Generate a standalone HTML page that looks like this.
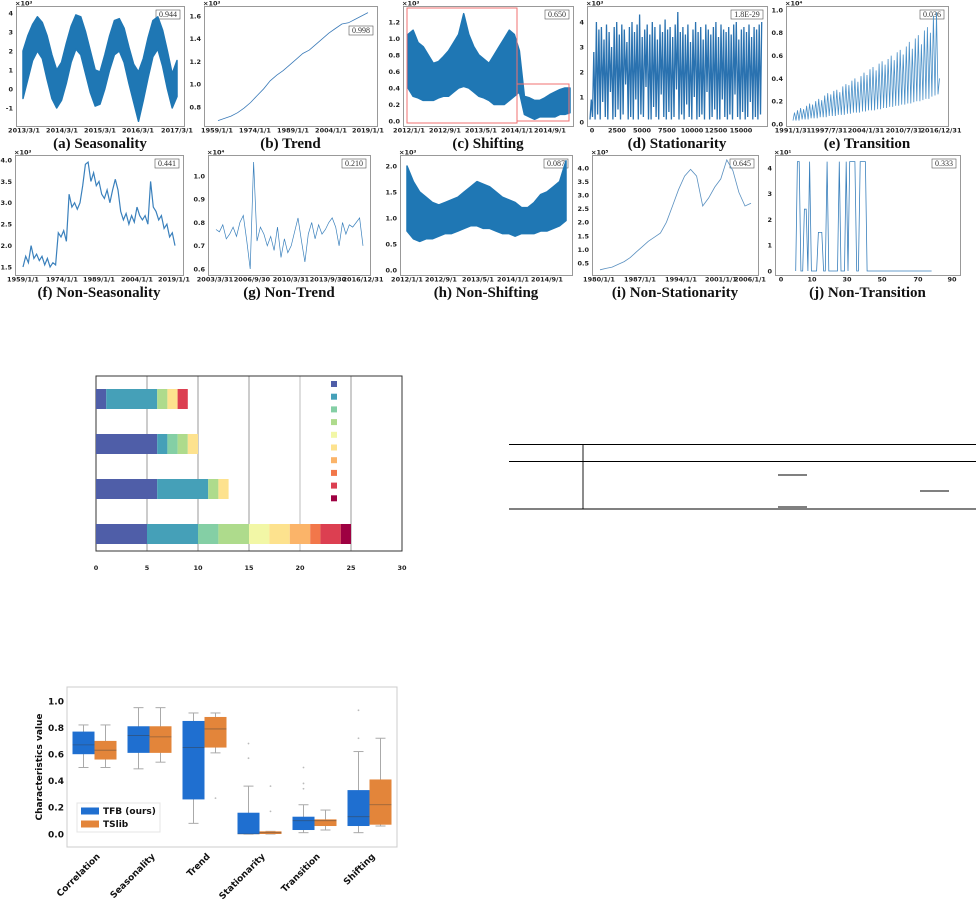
<!DOCTYPE html>
<html><head><meta charset="utf-8">
<style>
html,body{margin:0;padding:0;background:#fff;}
svg{display:block;}
.tk{font-family:"DejaVu Sans","Liberation Sans",sans-serif;font-weight:bold;font-size:6.5px;fill:#222;}
.cap{font-family:"Liberation Serif",serif;font-weight:bold;font-size:15px;fill:#111;}
.sc{font-family:"Liberation Serif",serif;font-size:8px;fill:#333;}
.bt{font-family:"DejaVu Sans","Liberation Sans",sans-serif;font-weight:bold;font-size:9px;fill:#111;}
</style></head>
<body>
<svg id="fig" width="976" height="900" viewBox="0 0 976 900" xmlns="http://www.w3.org/2000/svg">
  <g stroke="#000" stroke-width="0.9">
    <line x1="509" y1="444.5" x2="976" y2="444.5"/>
    <line x1="509" y1="461.5" x2="976" y2="461.5"/>
    <line x1="509" y1="509" x2="976" y2="509"/>
    <line x1="583" y1="444" x2="583" y2="509"/>
    <line x1="778" y1="475" x2="807" y2="475"/>
    <line x1="778" y1="507" x2="807" y2="507"/>
    <line x1="920" y1="491" x2="949" y2="491"/>
  </g>
</svg>
<script>
// ---------- data ----------
const seasonUpper=[2.0,2.8,3.4,3.8,3.5,2.8,1.8,1.0,1.4,2.4,3.3,3.9,3.8,3.0,2.0,1.0,0.9,1.8,2.8,3.6,3.7,3.2,2.2,1.3,0.9,1.6,2.7,3.6,3.8,3.1,2.0,0.8,1.5];
const seasonLower=[-0.5,0.5,1.5,2.0,1.6,0.5,-0.5,-1.0,-0.6,0.3,1.4,2.1,1.8,0.8,-0.2,-0.9,-0.8,0.0,1.0,1.8,2.0,1.4,0.3,-0.7,-1.7,-0.6,0.6,1.7,2.1,1.2,0.0,-1.0,-0.4];
const trendVals=[0.68,0.70,0.72,0.75,0.79,0.84,0.90,0.96,1.03,1.08,1.12,1.17,1.22,1.27,1.30,1.35,1.40,1.45,1.49,1.53,1.54,1.57,1.60,1.63];
const shiftUpper=[1.05,1.1,0.95,0.9,0.8,0.7,0.72,0.78,0.85,0.95,1.05,1.3,1.05,0.9,0.8,0.75,0.7,0.8,0.9,1.0,1.1,1.05,0.85,0.3,0.28,0.25,0.25,0.28,0.32,0.35,0.38,0.4,0.4];
const shiftLower=[0.4,0.3,0.28,0.25,0.25,0.25,0.28,0.3,0.3,0.35,0.4,0.42,0.4,0.35,0.3,0.28,0.25,0.2,0.2,0.2,0.25,0.3,0.35,0.08,0.05,0.02,0.05,0.05,0.05,0.05,0.08,0.08,0.1];
const statPeaks=[0.9,2.8,4.0,3.7,3.8,3.3,3.9,3.6,3.0,3.8,4.0,3.5,3.9,3.7,3.2,3.8,4.0,3.6,3.9,4.3,3.4,3.7,3.9,3.5,4.0,3.8,3.3,3.9,3.6,4.1,3.7,3.8,3.4,3.9,4.4,3.6,3.8,3.5,3.9,3.2,3.7,4.0,3.6,3.8,3.3,3.9,3.7,3.5,3.8,4.0,3.4,3.9,3.7,3.6,3.8,3.5,3.9,4.0,3.3,3.7,3.8,3.6,3.9,3.4,3.8,3.7,3.9,4.0];
const statLows=[0.1,0.2,0.1,0.3,0.1,0.8,0.2,0.1,1.2,0.1,0.2,0.5,0.1,0.3,1.5,0.1,0.2,0.1,0.9,0.1,0.3,0.2,1.4,0.1,0.1,0.6,0.2,0.1,1.1,0.2,0.1,0.4,0.1,0.2,1.3,0.1,0.3,0.1,0.7,0.2,0.1,1.0,0.1,0.2,0.3,0.1,1.2,0.1,0.2,0.5,0.1,0.1,0.9,0.2,0.1,0.3,0.1,1.1,0.2,0.1,0.4,0.1,0.2,0.8,0.1,0.2,0.1,0.3];
const transPeaks=[0.10,0.12,0.14,0.13,0.16,0.18,0.17,0.20,0.22,0.21,0.25,0.27,0.26,0.29,0.30,0.28,0.33,0.35,0.34,0.38,0.40,0.37,0.42,0.45,0.43,0.48,0.50,0.47,0.53,0.55,0.52,0.57,0.60,0.56,0.63,0.65,0.61,0.68,0.72,0.66,0.75,0.78,0.70,0.82,0.85,0.80,0.95,0.98,0.40];
const transLows=[0.03,0.03,0.03,0.04,0.04,0.04,0.05,0.05,0.05,0.06,0.06,0.06,0.07,0.07,0.07,0.08,0.08,0.08,0.09,0.09,0.10,0.10,0.10,0.11,0.11,0.12,0.12,0.12,0.13,0.13,0.14,0.14,0.15,0.15,0.16,0.16,0.17,0.17,0.18,0.18,0.19,0.20,0.20,0.21,0.22,0.22,0.24,0.25,0.26];
const nonSeasonVals=[1.5,1.75,1.6,2.0,1.7,1.8,1.65,1.75,1.55,1.7,1.5,1.6,1.55,2.3,2.2,2.35,2.1,3.2,2.9,3.0,2.85,3.0,3.4,3.9,3.95,3.5,3.7,3.4,3.5,3.2,3.1,3.3,3.0,3.3,3.55,3.3,2.8,2.6,2.75,2.5,2.7,2.55,2.9,2.7,2.6,2.7,2.5,3.5,2.9,2.8,2.6,2.7,2.4,2.5,2.2,2.3,2.0];
const nonTrendVals=[0.77,0.76,0.79,0.73,0.75,0.78,0.74,0.80,0.83,0.72,0.60,1.06,0.72,0.78,0.75,0.70,0.74,0.68,0.78,0.65,0.73,0.67,0.70,0.76,0.82,0.72,0.63,0.75,0.80,0.73,0.79,0.75,0.77,0.80,0.82,0.78,0.70,0.80,0.75,0.79,0.78,0.80,0.82,0.70];
const nonShiftUpper=[2.0,1.7,1.5,1.4,1.3,1.25,1.3,1.35,1.4,1.5,1.6,1.7,1.65,1.6,1.5,1.4,1.35,1.3,1.2,1.2,1.3,1.45,1.5,1.6,1.7,2.1];
const nonShiftLower=[0.75,0.6,0.55,0.6,0.6,0.65,0.7,0.7,0.75,0.8,0.85,0.85,0.8,0.8,0.75,0.7,0.7,0.65,0.7,0.7,0.7,0.75,0.75,0.8,0.85,0.95];
const nonStatVals=[0.25,0.3,0.35,0.45,0.55,0.7,0.9,1.1,1.3,1.45,1.6,2.0,2.6,3.2,3.7,3.95,3.7,2.6,2.9,3.3,3.6,4.3,3.9,3.1,2.6,2.7];
const nonTransVals=[0,4.25,4.25,0,0,2.4,2.4,0,4.25,0,0,0,0,1.5,1.5,1.5,0,0,4.25,0,0,0,0,0,0,4.25,0,0,0,4.25,0,4.25,4.25,4.25,4.25,0,0,4.25,4.25,4.25,4.25,0,0,0,0,0,0,0,0,0,0,0,0,0,0,0,0,0,0,0,0,0,0,0,0,0,0,0,0,0,0,0,0,0,0,0,0,0,0];
const scores=['0.944','0.998','0.650','1.8E-29','0.036','0.441','0.210','0.087','0.645','0.333'];
const captions=['(a) Seasonality','(b) Trend','(c) Shifting','(d) Stationarity','(e) Transition','(f) Non-Seasonality','(g) Non-Trend','(h) Non-Shifting','(i) Non-Stationarity','(j) Non-Transition'];

// stacked bar data: counts per colour class (10 classes) per row
const barRow1=[1,5,0,1,0,1,0,0,1,0];
const barRow2=[6,1,1,1,0,1,0,0,0,0];
const barRow3=[6,5,0,1,0,1,0,0,0,0];
const barRow4=[5,5,2,3,2,2,2,1,2,1];
const barTicks=[0,5,10,15,20,25,30];

// box plot data: [whiskerLow, q1, median, q3, whiskerHigh]
const boxCategories=['Correlation','Seasonality','Trend','Stationarity','Transition','Shifting'];
const tfbStats=[[0.50,0.60,0.67,0.77,0.82],[0.49,0.61,0.74,0.81,0.95],[0.08,0.26,0.65,0.85,0.91],[0.0,0.0,0.0,0.16,0.36],[0.01,0.03,0.10,0.13,0.22],[0.01,0.06,0.13,0.33,0.62]];
const tslibStats=[[0.50,0.56,0.63,0.70,0.82],[0.54,0.61,0.73,0.81,0.95],[0.61,0.65,0.79,0.88,0.91],[0.0,0.0,0.01,0.02,0.02],[0.03,0.06,0.10,0.11,0.18],[0.06,0.07,0.22,0.41,0.72]];
const tfbOutliers=[[],[],[],[0.57,0.68],[0.34,0.38,0.5],[0.72,0.93]];
const tslibOutliers=[[],[],[0.27],[0.17,0.36],[],[]];
const boxTicks=[0.0,0.2,0.4,0.6,0.8,1.0];

// ---------- helpers ----------
const NS='http://www.w3.org/2000/svg';
const svg=document.getElementById('fig');
function mk(tag,attrs,parent){const e=document.createElementNS(NS,tag);for(const k in attrs)e.setAttribute(k,attrs[k]);(parent||svg).appendChild(e);return e;}
function txt(parent,x,y,s,attrs,name){const e=mk('text',Object.assign({x:x,y:y},attrs),parent);e.textContent=s;


return e;}
function lin(a0,p0,a1,p1){return v=>p0+(v-a0)*(p1-p0)/(a1-a0);}

// ---------- panels ----------
const panels=[
 {box:[16,6,184,126],ya:[4,13],yb:[-1,108],yt:[-1,0,1,2,3,4],fmt:0,exp:'×10³',dx:[23,177],xl:['2013/3/1','2014/3/1','2015/3/1','2016/3/1','2017/3/1'],xp:[24,62,100,138,177],sOff:4},
 {box:[204,6,377,126],ya:[1.6,16],yb:[0.8,107],yt:[0.8,1.0,1.2,1.4,1.6],fmt:1,exp:'×10³',dx:[218,368],xl:['1959/1/1','1974/1/1','1989/1/1','2004/1/1','2019/1/1'],xp:[217,255,293,331,368],sOff:20},
 {box:[403,6,573,126],ya:[1.2,22],yb:[0,121],yt:[0,0.2,0.4,0.6,0.8,1.0,1.2],fmt:1,exp:'×10³',dx:[408,570],xl:['2012/1/1','2012/9/1','2013/5/1','2014/1/1','2014/9/1'],xp:[409,445,481,517,550],sOff:4},
 {box:[587,6,767,126],ya:[4,22],yb:[0,122],yt:[0,1,2,3,4],fmt:0,exp:'×10³',dx:[590,763],xl:['0','2500','5000','7500','10000','12500','15000'],xp:[592,617,642,667,692,716,741],sOff:4},
 {box:[786,6,948,126],ya:[1,10],yb:[0,124],yt:[0,0.2,0.4,0.6,0.8,1.0],fmt:1,exp:'×10⁴',dx:[793,941],xl:['1991/1/31','1997/7/31','2004/1/31','2010/7/31','2016/12/31'],xp:[793,829,866,904,941],sOff:4},
 {box:[15,155,183,275],ya:[4,160],yb:[1.5,267],yt:[1.5,2.0,2.5,3.0,3.5,4.0],fmt:1,exp:'×10³',dx:[23,175],xl:['1959/1/1','1974/1/1','1989/1/1','2004/1/1','2019/1/1'],xp:[23,62,99,137,174],sOff:4},
 {box:[208,155,370,275],ya:[1.0,176],yb:[0.6,269],yt:[0.6,0.7,0.8,0.9,1.0],fmt:1,exp:'×10⁴',dx:[216,363],xl:['2003/3/31','2006/9/30','2010/3/31','2013/9/30','2016/12/31'],xp:[215,252,291,328,363],sOff:4},
 {box:[400,155,572,275],ya:[2,166],yb:[0,270],yt:[0,0.5,1.0,1.5,2.0],fmt:1,exp:'×10³',dx:[407,566],xl:['2012/1/1','2012/9/1','2013/5/1','2014/1/1','2014/9/1'],xp:[407,441,478,513,547],sOff:4},
 {box:[592,155,758,275],ya:[4,168],yb:[0.5,263],yt:[0.5,1.0,1.5,2.0,2.5,3.0,3.5,4.0],fmt:1,exp:'×10⁵',dx:[600,751],xl:['1980/1/1','1987/1/1','1994/1/1','2001/1/1','2006/1/1'],xp:[599,640,681,721,750],sOff:4},
 {box:[775,155,960,275],ya:[4,168],yb:[0,271],yt:[0,1,2,3,4],fmt:0,exp:'×10¹',dx:[795.7,931.6],xl:['0','10','30','50','70','90'],xp:[781,812,847,882,918,952],sOff:4}
];
const BLUE='#1f77b4';
panels.forEach((p,i)=>{
  const g=mk('g',{});
  
  
  const [x0,y0,x1,y1]=p.box;
  const sy=lin(p.ya[0],p.ya[1],p.yb[0],p.yb[1]);
  p.sy=sy;p.g=g;
  const fr=mk('rect',{x:x0+0.5,y:y0+0.5,width:x1-x0,height:y1-y0,fill:'none',stroke:'#999','stroke-width':1},g);
  
  
  p.yt.forEach(v=>{txt(g,x0-3,sy(v)+2.4,p.fmt?v.toFixed(1):String(v),{class:'tk','text-anchor':'end'},'y-tick-label');});
  p.xl.forEach((s,k)=>{txt(g,p.xp[k],y1+6.5,s,{class:'tk','text-anchor':'middle'},'x-tick-label');});
  txt(g,x0-1,y0-0.5,p.exp,{class:'tk','font-size':'5.5px','font-weight':'normal'},'y-axis-multiplier');
  const cx=(x0+x1)/2;
  txt(g,cx,y1+22,captions[i],{class:'cap','text-anchor':'middle'},'panel-caption');
  const sw=scores[i].length*4+4;
  const sr=mk('rect',{x:x1-4-sw,y:y0+p.sOff,width:sw,height:9,fill:'#fff',stroke:'#555','stroke-width':0.6},g);
  
  
  txt(g,x1-4-sw/2,y0+p.sOff+7,scores[i],{class:'sc','text-anchor':'middle'},'score-value');
});
function xs(p,n){return lin(0,p.dx[0],n-1,p.dx[1]);}
function band(p,up,lo,name){
  const sx=xs(p,up.length);let pts=[];
  up.forEach((v,k)=>pts.push(sx(k).toFixed(1)+','+p.sy(v).toFixed(1)));
  for(let k=lo.length-1;k>=0;k--)pts.push(sx(k).toFixed(1)+','+p.sy(lo[k]).toFixed(1));
  const e=mk('polygon',{points:pts.join(' '),fill:BLUE,stroke:BLUE,'stroke-width':1.5,'stroke-linejoin':'round'},p.g);
  
  
}
function line(p,vals,name,w,col){
  const sx=xs(p,vals.length);
  const e=mk('polyline',{points:vals.map((v,k)=>sx(k).toFixed(1)+','+p.sy(v).toFixed(1)).join(' '),fill:'none',stroke:col||BLUE,'stroke-width':w||0.8},p.g);
  
  
}
function spikes(p,peaks,lows,name,w,col){
  const n=peaks.length,sx=lin(0,p.dx[0],n,p.dx[1]);let pts=[];
  peaks.forEach((v,k)=>{pts.push(sx(k).toFixed(1)+','+p.sy(lows[k]).toFixed(1));pts.push(sx(k+0.5).toFixed(1)+','+p.sy(v).toFixed(1));});
  const e=mk('polyline',{points:pts.join(' '),fill:'none',stroke:col,'stroke-width':w},p.g);
  
  
}
band(panels[0],seasonUpper,seasonLower,'seasonality-series');
line(panels[1],trendVals,'trend-series',0.8,'#3a7ab8');
band(panels[2],shiftUpper,shiftLower,'shifting-series');
spikes(panels[3],statPeaks,statLows,'stationarity-series',1.3,'#2a72b0');
spikes(panels[4],transPeaks,transLows,'transition-series',0.8,'#4a90c8');
line(panels[5],nonSeasonVals,'non-seasonality-series',1.2,'#3a80bc');
line(panels[6],nonTrendVals,'non-trend-series',0.7,'#3a80bc');
band(panels[7],nonShiftUpper,nonShiftLower,'non-shifting-series');
line(panels[8],nonStatVals,'non-stationarity-series',0.8,'#5a90c0');
line(panels[9],nonTransVals,'non-transition-series',0.8,'#3a80bc');
// shifting highlight boxes
[[407,8,110,115],[517,84,52,37]].forEach(r=>{
  const e=mk('rect',{x:r[0],y:r[1],width:r[2],height:r[3],fill:'none',stroke:'#f07070','stroke-width':1},panels[2].g);
  
  
});

// ---------- stacked bar chart ----------
const barColors=['#4f5ea8','#45a0b8','#84cfa5','#aedb8c','#f2f7a6','#fde28e','#fbb469','#f2774a','#dc3f51','#9e0142'];
const bg=mk('g',{});


const bx=lin(0,96,30,402);
barTicks.forEach(t=>{
  if(t>0&&t<30){const l=mk('line',{x1:bx(t),y1:376,x2:bx(t),y2:551,stroke:t===20?'#d4d4d4':'#999','stroke-width':t===20?1.5:1},bg);
  
  }
  txt(bg,bx(t),570,String(t),{class:'tk','font-size':'8px','text-anchor':'middle'},'x-tick-label');
});
const bf=mk('rect',{x:96,y:376,width:306,height:175,fill:'none',stroke:'#333','stroke-width':1},bg);


const barRows=[barRow1,barRow2,barRow3,barRow4];
const rowY=lin(0,399,3,534);
barRows.forEach((row,r)=>{
  let acc=0;
  row.forEach((c,k)=>{
    if(c>0){const e=mk('rect',{x:bx(acc),y:rowY(r)-10,width:bx(acc+c)-bx(acc),height:20,fill:barColors[k]},bg);
    
    }
    acc+=c;
  });
});
barColors.forEach((c,k)=>{
  const e=mk('rect',{x:331,y:381+k*12.7,width:6,height:6,fill:c},bg);
  
  
});

// ---------- box plot ----------
const pg=mk('g',{});


const by=lin(0,834,1,701);
const pf=mk('rect',{x:67,y:687,width:330,height:160,fill:'none',stroke:'#ccc','stroke-width':1},pg);


boxTicks.forEach(t=>{txt(pg,64,by(t)+3.3,t.toFixed(1),{class:'bt','text-anchor':'end'},'y-tick-label');});
txt(pg,42,767,'Characteristics value',{class:'bt','font-size':'9.5px','text-anchor':'middle',transform:'rotate(-90 42 767)'},'y-axis-title');
const gx=lin(0,94.5,5,369.5);
function drawBox(st,out,x0,x1,col){
  const cx=(x0+x1)/2;
  const w=mk('line',{x1:cx,y1:by(st[0]),x2:cx,y2:by(st[4]),stroke:'#aaa','stroke-width':1},pg);
  
  
  [st[0],st[4]].forEach(v=>{const c=mk('line',{x1:cx-5,y1:by(v),x2:cx+5,y2:by(v),stroke:'#aaa','stroke-width':1},pg);
  
  });
  const b=mk('rect',{x:x0,y:by(st[3]),width:x1-x0,height:Math.max(1,by(st[1])-by(st[3])),fill:col},pg);
  
  
  const m=mk('line',{x1:x0,y1:by(st[2]),x2:x1,y2:by(st[2]),stroke:'rgba(60,60,60,0.5)','stroke-width':0.8},pg);
  
  
  out.forEach(v=>{const o=mk('circle',{cx:cx,cy:by(v),r:0.9,fill:'#bbb'},pg);
  
  });
}
boxCategories.forEach((c,i)=>{
  drawBox(tfbStats[i],tfbOutliers[i],gx(i)-22,gx(i),'#1f6fd0');
  drawBox(tslibStats[i],tslibOutliers[i],gx(i),gx(i)+22,'#e3853a');
  txt(pg,gx(i)+6,857,c,{class:'bt','font-size':'9.5px','text-anchor':'end',transform:'rotate(-45 '+(gx(i)+6)+' 857)'},'category-label');
});
const lg=mk('rect',{x:77,y:803,width:83,height:29,fill:'#fff',stroke:'#e4e4e4','stroke-width':1},pg);


[['TFB (ours)','#1f6fd0',811],['TSlib','#e3853a',824]].forEach(e=>{
  const s=mk('rect',{x:81,y:e[2]-3.5,width:18,height:7,fill:e[1]},pg);
  
  
  txt(pg,103,e[2]+3,e[0],{class:'bt'},'legend-entry');
});
</script>
</body></html>
